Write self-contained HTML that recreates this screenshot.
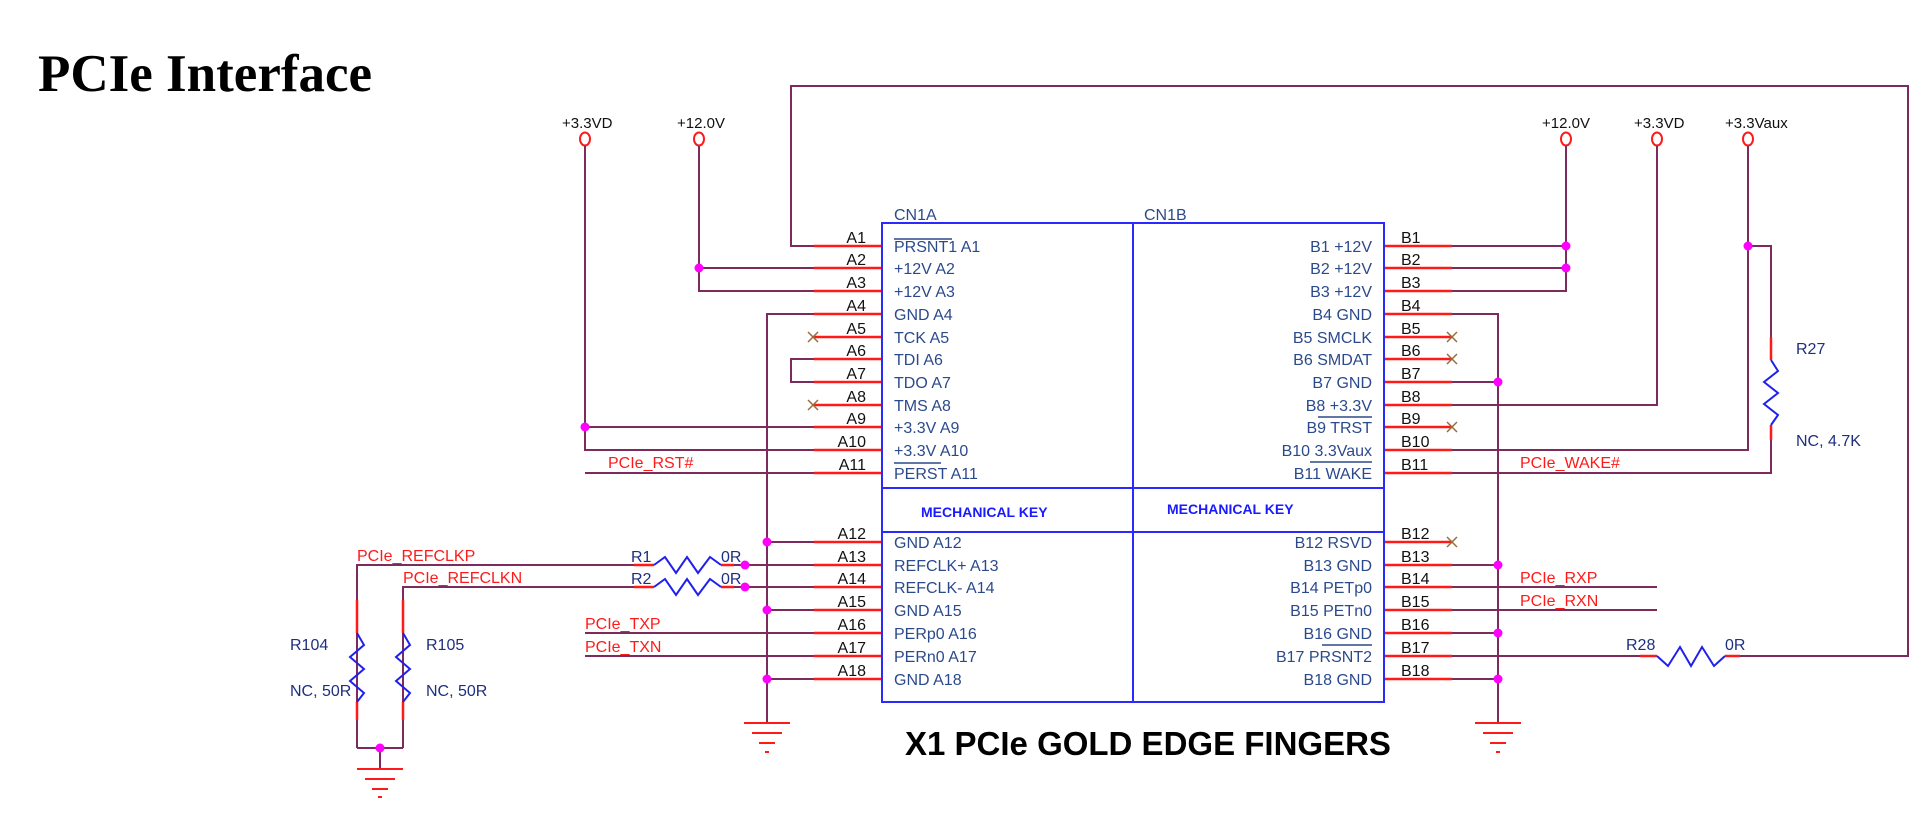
<!DOCTYPE html>
<html><head><meta charset="utf-8"><style>
html,body{margin:0;padding:0;background:#fff;}
svg{display:block;}
text{font-family:"Liberation Sans",Arial,sans-serif;}
.w{stroke:#7d2a5c;stroke-width:2;fill:none;}
.r{stroke:#ff1a1a;stroke-width:2.5;fill:none;}
.b{stroke:#2a2aff;stroke-width:2;fill:none;}
.z{stroke:#2020ee;stroke-width:2;fill:none;}
.pn{font-size:16px;fill:#111;}
.in{font-size:16px;fill:#2b4a8c;}
.net{font-size:16px;fill:#ff1a1a;}
.pw{font-size:15px;fill:#111;}
.rl{font-size:16px;fill:#1f2f7f;}
.x{stroke:#9a6a3a;stroke-width:1.5;}
.g{stroke:#ff1a1a;stroke-width:2;}
</style></head><body>
<svg width="1919" height="829" viewBox="0 0 1919 829" xmlns="http://www.w3.org/2000/svg">
<text x="38" y="91" style="font-family:'Liberation Serif',serif;font-weight:bold;font-size:53px">PCIe Interface</text>

<g class="pw">
<text x="562" y="128">+3.3VD</text>
<text x="677" y="128">+12.0V</text>
<text x="1542" y="128">+12.0V</text>
<text x="1634" y="128">+3.3VD</text>
<text x="1725" y="128">+3.3Vaux</text>
</g>
<g fill="none" stroke="#ff1a1a" stroke-width="2">
<ellipse cx="585" cy="139" rx="5" ry="6.5"/>
<ellipse cx="699" cy="139" rx="5" ry="6.5"/>
<ellipse cx="1566" cy="139" rx="5" ry="6.5"/>
<ellipse cx="1657" cy="139" rx="5" ry="6.5"/>
<ellipse cx="1748" cy="139" rx="5" ry="6.5"/>
</g>

<g class="w">
<path d="M814 246H791V86H1908V656H1725"/>
<path d="M1657 656H1452"/>
<path d="M814 268H699M814 291H699V146"/>
<path d="M585 146V450H814M585 427H814M585 473H814"/>
<path d="M814 314H767V723M767 542H814M767 610H814M767 679H814"/>
<path d="M814 359H791V382H814"/>
<path d="M357 748V565H654M721 565H814"/>
<path d="M403 748V587H654M721 587H814"/>
<path d="M357 748H403M380 748V769"/>
<path d="M585 633H814M585 656H814"/>
<path d="M1452 246H1566M1452 268H1566M1452 291H1566V146"/>
<path d="M1452 314H1498V723M1452 382H1498M1452 565H1498M1452 633H1498M1452 679H1498"/>
<path d="M1452 405H1657V146"/>
<path d="M1452 450H1748V146M1748 246H1771V337"/>
<path d="M1771 430V473H1452"/>
<path d="M1452 587H1657M1452 610H1657"/>
</g>

<g class="r">
<path d="M814 246H882M814 268H882M814 291H882M814 314H882M814 337H882M814 359H882M814 382H882M814 405H882M814 427H882M814 450H882M814 473H882"/>
<path d="M814 542H882M814 565H882M814 587H882M814 610H882M814 633H882M814 656H882M814 679H882"/>
<path d="M1384 246H1452M1384 268H1452M1384 291H1452M1384 314H1452M1384 337H1452M1384 359H1452M1384 382H1452M1384 405H1452M1384 427H1452M1384 450H1452M1384 473H1452"/>
<path d="M1384 542H1452M1384 565H1452M1384 587H1452M1384 610H1452M1384 633H1452M1384 656H1452M1384 679H1452"/>
<path d="M634 565H654M721 565H734M634 587H654M721 587H734"/>
<path d="M357 600V633M357 702V720M403 600V633M403 702V720M1771 337V360M1771 425V440M1640 656H1657M1725 656H1740"/>
</g>

<g class="z">
<path d="M654 565L665 557L676 573L687 557L698 573L710 557L721 565"/>
<path d="M654 587L665 579L676 595L687 579L698 595L710 579L721 587"/>
<path d="M357 633L364 645L350 657L364 669L350 681L364 693L357 702"/>
<path d="M403 633L410 645L396 657L410 669L396 681L410 693L403 702"/>
<path d="M1771 360L1778 371L1764 382L1778 393L1764 404L1778 415L1771 425"/>
<path d="M1657 656L1668 666L1680 647L1691 666L1702 647L1714 666L1725 656"/>
</g>

<g class="x">
<path d="M808 332l10 10M818 332l-10 10M808 400l10 10M818 400l-10 10"/>
<path d="M1447 332l10 10M1457 332l-10 10M1447 354l10 10M1457 354l-10 10M1447 422l10 10M1457 422l-10 10M1447 537l10 10M1457 537l-10 10"/>
</g>

<g class="g">
<path d="M744 723H790M752 733H782M759 743H775M765 752H769"/>
<path d="M1475 723H1521M1483 733H1513M1490 743H1506M1496 752H1500"/>
<path d="M357 769H403M365 779H395M372 789H388M378 797H382"/>
</g>

<g fill="#ff00ff">
<circle cx="699" cy="268" r="4.5"/><circle cx="585" cy="427" r="4.5"/>
<circle cx="767" cy="542" r="4.5"/><circle cx="767" cy="610" r="4.5"/><circle cx="767" cy="679" r="4.5"/>
<circle cx="745" cy="565" r="4.5"/><circle cx="745" cy="587" r="4.5"/>
<circle cx="380" cy="748" r="4.5"/>
<circle cx="1566" cy="246" r="4.5"/><circle cx="1566" cy="268" r="4.5"/>
<circle cx="1748" cy="246" r="4.5"/>
<circle cx="1498" cy="382" r="4.5"/><circle cx="1498" cy="565" r="4.5"/><circle cx="1498" cy="633" r="4.5"/><circle cx="1498" cy="679" r="4.5"/>
</g>

<g class="b">
<rect x="882" y="223" width="502" height="479"/>
<path d="M1133 223V702M882 488H1384M882 532H1384"/>
</g>
<text x="894" y="220" class="in">CN1A</text>
<text x="1144" y="220" class="in">CN1B</text>
<text x="921" y="517" style="font-size:14px;font-weight:bold;fill:#1a1aff">MECHANICAL KEY</text>
<text x="1167" y="514" style="font-size:14px;font-weight:bold;fill:#1a1aff">MECHANICAL KEY</text>

<g class="pn" text-anchor="end">
<text x="866" y="243">A1</text><text x="866" y="265">A2</text><text x="866" y="288">A3</text><text x="866" y="311">A4</text><text x="866" y="334">A5</text><text x="866" y="356">A6</text><text x="866" y="379">A7</text><text x="866" y="402">A8</text><text x="866" y="424">A9</text><text x="866" y="447">A10</text><text x="866" y="470">A11</text>
<text x="866" y="539">A12</text><text x="866" y="562">A13</text><text x="866" y="584">A14</text><text x="866" y="607">A15</text><text x="866" y="630">A16</text><text x="866" y="653">A17</text><text x="866" y="676">A18</text>
</g>
<g class="pn">
<text x="1401" y="243">B1</text><text x="1401" y="265">B2</text><text x="1401" y="288">B3</text><text x="1401" y="311">B4</text><text x="1401" y="334">B5</text><text x="1401" y="356">B6</text><text x="1401" y="379">B7</text><text x="1401" y="402">B8</text><text x="1401" y="424">B9</text><text x="1401" y="447">B10</text><text x="1401" y="470">B11</text>
<text x="1401" y="539">B12</text><text x="1401" y="562">B13</text><text x="1401" y="584">B14</text><text x="1401" y="607">B15</text><text x="1401" y="630">B16</text><text x="1401" y="653">B17</text><text x="1401" y="676">B18</text>
</g>

<g class="in">
<text x="894" y="252">PRSNT1 A1</text><text x="894" y="274">+12V  A2</text><text x="894" y="297">+12V  A3</text><text x="894" y="320">GND A4</text><text x="894" y="343">TCK  A5</text><text x="894" y="365">TDI A6</text><text x="894" y="388">TDO  A7</text><text x="894" y="411">TMS  A8</text><text x="894" y="433">+3.3V  A9</text><text x="894" y="456">+3.3V A10</text><text x="894" y="479">PERST A11</text>
<text x="894" y="548">GND A12</text><text x="894" y="571">REFCLK+ A13</text><text x="894" y="593">REFCLK- A14</text><text x="894" y="616">GND A15</text><text x="894" y="639">PERp0 A16</text><text x="894" y="662">PERn0 A17</text><text x="894" y="685">GND A18</text>
</g>
<g class="in" text-anchor="end">
<text x="1372" y="252">B1  +12V</text><text x="1372" y="274">B2  +12V</text><text x="1372" y="297">B3  +12V</text><text x="1372" y="320">B4 GND</text><text x="1372" y="343">B5 SMCLK</text><text x="1372" y="365">B6  SMDAT</text><text x="1372" y="388">B7 GND</text><text x="1372" y="411">B8  +3.3V</text><text x="1372" y="433">B9  TRST</text><text x="1372" y="456">B10 3.3Vaux</text><text x="1372" y="479">B11 WAKE</text>
<text x="1372" y="548">B12 RSVD</text><text x="1372" y="571">B13 GND</text><text x="1372" y="593">B14 PETp0</text><text x="1372" y="616">B15 PETn0</text><text x="1372" y="639">B16 GND</text><text x="1372" y="662">B17 PRSNT2</text><text x="1372" y="685">B18 GND</text>
</g>
<g stroke="#2b4a8c" stroke-width="1.5">
<path d="M894 239H952M894 463H941M1318 417H1372M1310 462H1372M1322 645H1372"/>
</g>

<g class="net">
<text x="608" y="468">PCIe_RST#</text>
<text x="357" y="561">PCIe_REFCLKP</text>
<text x="403" y="583">PCIe_REFCLKN</text>
<text x="585" y="629">PCIe_TXP</text>
<text x="585" y="652">PCIe_TXN</text>
<text x="1520" y="468">PCIe_WAKE#</text>
<text x="1520" y="583">PCIe_RXP</text>
<text x="1520" y="606">PCIe_RXN</text>
</g>

<g class="rl">
<text x="631" y="562">R1</text><text x="721" y="562">0R</text>
<text x="631" y="584">R2</text><text x="721" y="584">0R</text>
<text x="290" y="650">R104</text><text x="290" y="696">NC, 50R</text>
<text x="426" y="650">R105</text><text x="426" y="696">NC, 50R</text>
<text x="1796" y="354">R27</text><text x="1796" y="446">NC, 4.7K</text>
<text x="1626" y="650">R28</text><text x="1725" y="650">0R</text>
</g>

<text x="905" y="755" style="font-size:33px;font-weight:bold;fill:#000">X1 PCIe GOLD EDGE FINGERS</text>
</svg>
</body></html>
